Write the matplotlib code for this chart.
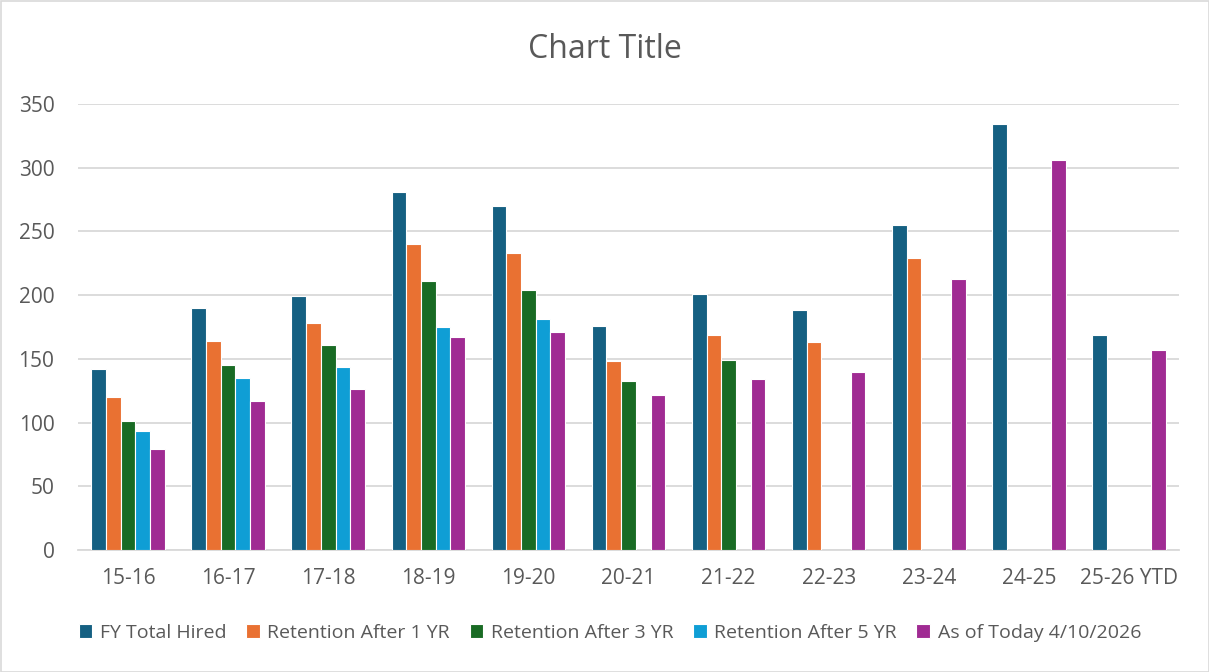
import numpy as np
import matplotlib
matplotlib.use('Agg')
import matplotlib.pyplot as plt
from matplotlib.patches import Rectangle

categories = ['15-16', '16-17', '17-18', '18-19', '19-20', '20-21', '21-22', '22-23', '23-24', '24-25', '25-26 YTD']
series_names = ['FY Total Hired', 'Retention After 1 YR', 'Retention After 3 YR', 'Retention After 5 YR', 'As of Today 4/10/2026']
fy_total = [142, 190, 199, 281, 270, 176, 201, 188, 255, 334, 169]
after_1yr = [120, 164, 178, 240, 233, 148, 169, 163, 229, np.nan, np.nan]
after_3yr = [101, 145, 161, 211, 204, 133, 149, np.nan, np.nan, np.nan, np.nan]
after_5yr = [93, 135, 144, 175, 181, np.nan, np.nan, np.nan, np.nan, np.nan, np.nan]
as_of_today = [79, 117, 126, 167, 171, 122, 134, 140, 213, 306, 157]
colors = ['#156082', '#E97132', '#196B24', '#0F9ED5', '#A02B93']

plt.rcParams['font.family'] = ['Open Sans', 'DejaVu Sans']

fig = plt.figure(figsize=(12.09, 6.72), dpi=100)
ax = fig.add_axes([78/1209, 1 - 550/672, (1179-78)/1209, (550-104)/672])

x = np.arange(len(categories))
slot = 0.147
all_series = [fy_total, after_1yr, after_3yr, after_5yr, as_of_today]
for i, (vals, name, c) in enumerate(zip(all_series, series_names, colors)):
    ax.bar(x + (i - 2) * slot, vals, width=slot, color=c, edgecolor='white', linewidth=0.8, label=name, zorder=3)

ax.set_xlim(-0.5, len(categories) - 0.5)
ax.set_ylim(0, 350)
ax.set_yticks(range(0, 351, 50))
ax.set_xticks(x)
ax.set_xticklabels(categories)
ax.yaxis.grid(True, color='#D9D9D9', linewidth=1.3, zorder=0)
ax.set_axisbelow(True)
for s in ['top', 'right', 'left']:
    ax.spines[s].set_visible(False)
ax.spines['bottom'].set_color('#D9D9D9')
ax.spines['bottom'].set_linewidth(1.3)
ax.tick_params(axis='both', length=0, labelsize=15, colors='#595959')
ax.tick_params(axis='y', pad=17)
ax.tick_params(axis='x', pad=13)

fig.text(605/1209, 1 - 49/672, 'Chart Title', ha='center', va='center', fontsize=23, color='#595959')

leg = fig.legend(loc='center', bbox_to_anchor=(610/1209, 1 - 633/672), ncol=5, frameon=False,
                 fontsize=14, handlelength=0.7, handleheight=0.75, handletextpad=0.4, columnspacing=1.0)
for t in leg.get_texts():
    t.set_color('#595959')

fig.patches.append(Rectangle((0.5/1209, 0.5/672), 1 - 1/1209, 1 - 1/672, transform=fig.transFigure,
                             fill=False, edgecolor='#D9D9D9', linewidth=1.2))

fig.savefig('out.png', dpi=100)
